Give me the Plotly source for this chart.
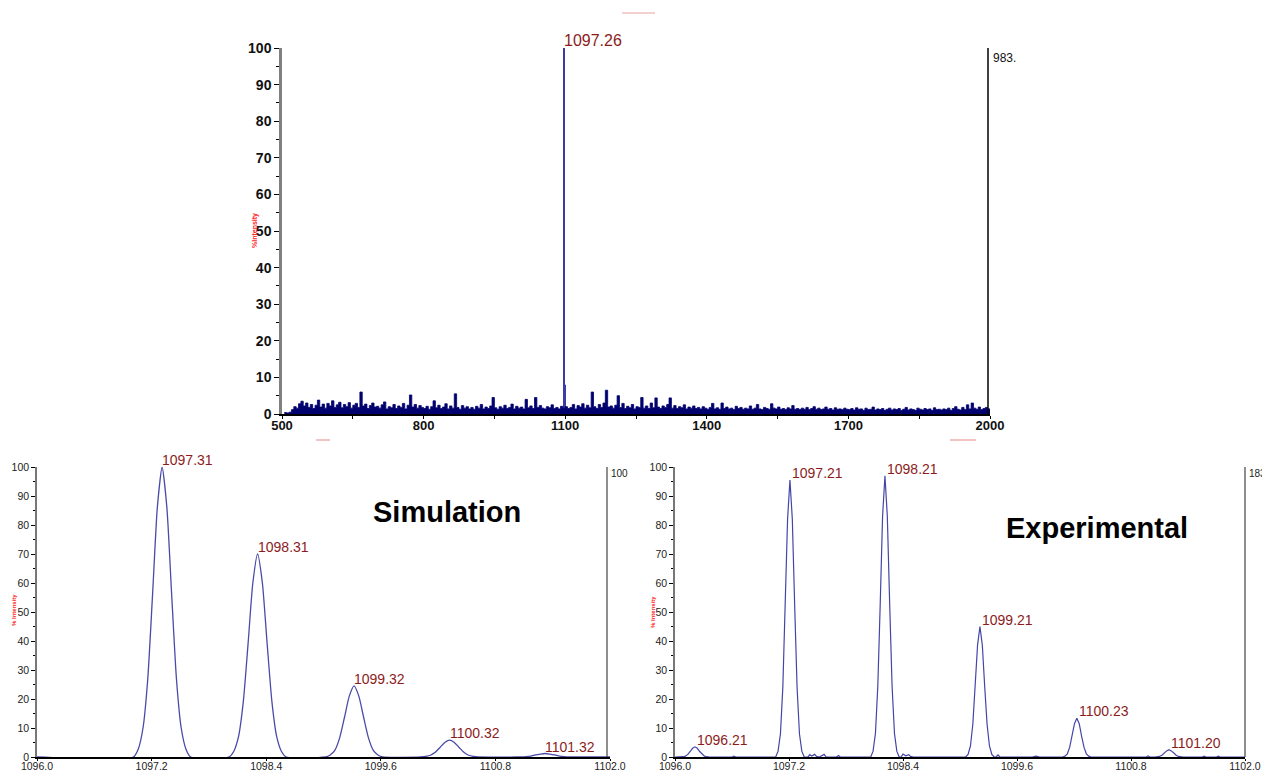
import plotly.graph_objects as go

FONT = "Arial, Liberation Sans, sans-serif"
LABEL_RED = "#8b1c1c"

# ---------------- Top panel: full-range spectrum ----------------
noise_start = 505
noise_step = 5
noise_vals = [
    0.3,0.4,0.3,0.5,1.2,2.0,1.6,2.8,3.5,2.2,3.0,1.8,2.6,1.5,2.4,3.8,1.9,2.7,1.6,2.9,
    2.2,3.6,1.8,2.5,3.2,1.7,2.6,2.0,3.1,1.6,2.4,2.9,1.8,6.0,2.2,2.7,1.5,2.3,3.0,1.9,
    2.1,1.6,2.5,3.3,1.4,2.0,1.7,2.6,1.5,2.2,1.8,2.9,1.4,2.4,5.2,1.9,2.6,1.6,2.3,1.8,
    1.5,2.1,1.3,2.0,3.6,1.7,2.4,1.5,1.9,2.8,1.4,2.2,1.6,5.5,1.8,1.3,2.3,1.6,2.0,1.4,
    1.8,1.3,2.1,1.6,2.6,1.4,1.9,1.5,2.2,4.5,1.7,1.3,2.0,1.6,2.4,1.5,1.8,2.7,1.4,2.1,
    1.6,1.9,1.4,4.0,1.7,2.2,1.5,4.5,1.8,2.3,1.6,1.4,2.0,1.7,2.5,1.5,1.8,1.4,2.1,1.6,
    2.0,1.5,1.8,2.6,1.4,2.3,1.9,2.8,1.6,2.4,1.7,6.0,2.0,1.5,2.6,1.8,3.0,6.5,1.9,2.2,
    1.6,2.4,5.0,1.8,2.9,1.5,2.1,1.7,2.6,1.4,2.0,1.8,4.5,1.6,2.2,1.5,3.0,1.7,4.4,1.9,
    1.5,2.2,1.8,2.6,4.4,1.6,2.3,1.5,2.0,1.7,2.5,1.4,1.9,1.6,2.2,1.5,1.8,1.4,2.0,1.6,
    1.3,1.8,2.9,1.4,1.7,1.3,3.0,1.5,1.9,1.4,1.6,1.2,2.1,1.5,1.8,1.3,1.6,1.4,2.2,1.3,
    1.6,2.6,1.4,1.2,1.8,1.5,1.3,2.8,1.6,1.4,1.9,1.3,1.5,1.2,1.7,1.4,2.3,1.3,1.5,1.2,
    1.6,1.3,1.8,1.2,1.5,2.0,1.3,1.6,1.2,1.4,1.9,1.3,1.5,1.1,1.7,1.3,1.4,1.2,1.6,1.3,
    1.2,1.5,1.1,1.7,1.3,1.4,1.0,1.6,1.2,1.3,1.9,1.1,1.4,1.2,1.5,1.0,1.3,1.6,1.1,1.4,
    1.2,1.5,1.0,1.3,1.8,1.1,1.4,1.2,1.0,1.6,1.3,1.1,1.5,1.2,1.4,1.0,1.7,1.2,1.3,1.1,
    1.4,1.2,1.6,1.0,1.5,2.0,1.3,1.1,1.8,1.2,2.5,1.4,3.0,1.6,1.3,1.9,1.2,1.5,1.8,1.4,
]
noise_mz = [noise_start + noise_step * i for i in range(len(noise_vals))]

main_mz = [1097.26, 1098.26, 1099.26]
main_int = [100, 53, 8]
top_label_mz = 1097.26
top_label_int = 100
top_label = "1097.26"

top_xticks = [500, 800, 1100, 1400, 1700, 2000]
top_xminor = [650, 950, 1250, 1550, 1850]

# ---------------- Bottom-left: simulated isotope pattern ----------------
s1_x = [1097.01,1097.06,1097.11,1097.16,1097.21,1097.26,1097.31,1097.36,1097.41,1097.46,1097.51,1097.56,1097.61]
s1_y = [0,2.7,10,27,56,86,100,86,56,27,10,2.7,0]
s2_x = [1098.01,1098.06,1098.11,1098.16,1098.21,1098.26,1098.31,1098.36,1098.41,1098.46,1098.51,1098.56,1098.61]
s2_y = [0,1.9,7,19,39,60,70,60,39,19,7,1.9,0]
s3_x = [1099.02,1099.07,1099.12,1099.17,1099.22,1099.27,1099.32,1099.37,1099.42,1099.47,1099.52,1099.57,1099.62]
s3_y = [0,0.7,2.4,6.7,13.7,21,24.5,21,13.7,6.7,2.4,0.7,0]
s4_x = [1100.02,1100.07,1100.12,1100.17,1100.22,1100.27,1100.32,1100.37,1100.42,1100.47,1100.52,1100.57,1100.62]
s4_y = [0,0.2,0.6,1.6,3.3,5.0,5.8,5.0,3.3,1.6,0.6,0.2,0]
s5_x = [1101.02,1101.07,1101.12,1101.17,1101.22,1101.27,1101.32,1101.37,1101.42,1101.47,1101.52,1101.57,1101.62]
s5_y = [0,0,0.1,0.3,0.7,1.0,1.2,1.0,0.7,0.3,0.1,0,0]

sim_labels = ["1097.31", "1098.31", "1099.32", "1100.32", "1101.32"]
sim_label_x = [1097.31, 1098.31, 1099.32, 1100.32, 1101.32]
sim_label_y = [100, 70, 24.5, 5.8, 1.2]

# ---------------- Bottom-right: experimental isotope pattern ----------------
e0_x = [1096.06,1096.085,1096.11,1096.135,1096.16,1096.185,1096.21,1096.235,1096.26,1096.285,1096.31,1096.335,1096.36]
e0_y = [0,0.1,0.3,0.9,1.9,3.0,3.5,3.0,1.9,0.9,0.3,0.1,0]
e1_x = [1097.06,1097.085,1097.11,1097.135,1097.16,1097.185,1097.21,1097.235,1097.26,1097.285,1097.31,1097.335,1097.36]
e1_y = [0,2,8,24,52,82,95.5,82,52,24,8,2,0]
e2_x = [1098.06,1098.085,1098.11,1098.135,1098.16,1098.185,1098.21,1098.235,1098.26,1098.285,1098.31,1098.335,1098.36]
e2_y = [0,2,8.2,24.5,52.5,83,97,83,52.5,24.5,8.2,2,0]
e3_x = [1099.06,1099.085,1099.11,1099.135,1099.16,1099.185,1099.21,1099.235,1099.26,1099.285,1099.31,1099.335,1099.36]
e3_y = [0,0.9,3.8,11.3,24.3,38.6,45,38.6,24.3,11.3,3.8,0.9,0]
e4_x = [1100.08,1100.105,1100.13,1100.155,1100.18,1100.205,1100.23,1100.255,1100.28,1100.305,1100.33,1100.355,1100.38]
e4_y = [0,0.3,1.1,3.4,7.2,11.5,13.4,11.5,7.2,3.4,1.1,0.3,0]
e5_x = [1101.05,1101.075,1101.10,1101.125,1101.15,1101.175,1101.20,1101.225,1101.25,1101.275,1101.30,1101.325,1101.35]
e5_y = [0,0.1,0.2,0.6,1.4,2.1,2.5,2.1,1.4,0.6,0.2,0.1,0]
en_x = [1096.60,1096.62,1096.64,1097.40,1097.42,1097.44,1097.47,1097.49,1097.52,1097.55,1097.57,1097.59,
        1097.70,1097.72,1097.74,1098.38,1098.40,1098.43,1098.46,1098.48,1098.51,1099.38,1099.40,1099.42,
        1099.76,1099.80,1099.84,1100.96,1100.98,1101.00,1101.55,1101.57,1101.59,1101.70,1101.72,1101.74]
en_y = [0,0.3,0,0,0.8,0.3,0.9,0.2,0,0.6,0.9,0,
        0,0.5,0,0,1.0,0.4,0.8,0.2,0,0,0.7,0,
        0,0.3,0,0,0.4,0,0,0.3,0,0,0.3,0]

exp_labels = ["1096.21", "1097.21", "1098.21", "1099.21", "1100.23", "1101.20"]
exp_label_x = [1096.21, 1097.21, 1098.21, 1099.21, 1100.23, 1101.20]
exp_label_y = [3.5, 95.5, 97, 45, 13.4, 2.5]

zoom_xticks = [1096.0, 1097.2, 1098.4, 1099.6, 1100.8, 1102.0]
zoom_range = [1096.0, 1102.0]

# ---------------- Build traces ----------------
sim_x = [zoom_range[0]] + s1_x + s2_x + s3_x + s4_x + s5_x + [zoom_range[1]]
sim_y = [0] + s1_y + s2_y + s3_y + s4_y + s5_y + [0]

pairs = list(zip(e0_x + e1_x + e2_x + e3_x + e4_x + e5_x + en_x,
                 e0_y + e1_y + e2_y + e3_y + e4_y + e5_y + en_y))
pairs += [(zoom_range[0], 0), (zoom_range[1], 0)]
pairs.sort(key=lambda p: p[0])
exp_x = [p[0] for p in pairs]
exp_y = [p[1] for p in pairs]

fig = go.Figure()
fig.add_trace(go.Scatter(x=noise_mz, y=noise_vals, mode="lines", line=dict(color="#00006e", width=0.8, shape="vh"),
                         fill="tozeroy", fillcolor="#00006e", xaxis="x", yaxis="y", showlegend=False))
fig.add_trace(go.Bar(x=main_mz, y=main_int, width=2.6, marker=dict(color="#3c3ca6", line=dict(width=0)),
                     xaxis="x", yaxis="y", showlegend=False))
fig.add_trace(go.Scatter(x=sim_x, y=sim_y, mode="lines", line=dict(color="#4a4aaa", width=1.3, shape="spline", smoothing=0.6),
                         xaxis="x2", yaxis="y2", showlegend=False))
fig.add_trace(go.Scatter(x=exp_x, y=exp_y, mode="lines", line=dict(color="#4545a8", width=1.2),
                         xaxis="x3", yaxis="y3", showlegend=False))

# ---------------- Layout ----------------
# The page body adds an 8 px offset, so the figure is drawn 8 px smaller and
# every position below (given in screen pixels) is shifted by that offset.
OFF = 8
W, H = 1270 - OFF, 772 - OFF
def px(x):
    return (x - OFF) / W
def py(y):
    return 1 - (y - OFF) / H

tick_font_bot = dict(family=FONT, size=10.5, color="#222")

common = dict(showgrid=False, zeroline=False, automargin=False)

fig.update_layout(
    width=W, height=H, margin=dict(l=0, r=0, t=0, b=0, autoexpand=False),
    paper_bgcolor="white", plot_bgcolor="white", barmode="overlay",
    showlegend=False,
    xaxis=dict(domain=[px(282), px(990)], range=[500, 2000], anchor="y",
               tickmode="array", tickvals=top_xticks, ticktext=[str(v) for v in top_xticks],
               ticks="outside", ticklen=3, tickcolor="#000", showline=True, linecolor="#000", linewidth=1.5,
               minor=dict(tickvals=top_xminor, ticks="outside", ticklen=3, tickcolor="#000"),
               ticklabelstandoff=-4,
               tickfont=dict(family=FONT, size=13, color="#111", weight="bold"), **common),
    yaxis=dict(domain=[py(414), py(48)], range=[0, 100], anchor="x",
               tickmode="linear", tick0=0, dtick=10,
               ticks="outside", ticklen=5, tickcolor="#000", showline=True, linecolor="#808080", linewidth=2.5,
               minor=dict(dtick=5, ticks="outside", ticklen=3, tickcolor="#000"),
               tickfont=dict(family=FONT, size=14, color="#111", weight="bold"), **common),
    xaxis2=dict(domain=[px(37), px(610)], range=zoom_range, anchor="y2",
                tickmode="array", tickvals=zoom_xticks, ticktext=[f"{v:.1f}" for v in zoom_xticks],
                ticks="outside", ticklen=2, tickcolor="#000", showline=True, linecolor="#000", linewidth=1.5,
                ticklabelstandoff=-3, tickfont=tick_font_bot, **common),
    yaxis2=dict(domain=[py(757), py(467)], range=[0, 100], anchor="x2",
                tickmode="linear", tick0=0, dtick=10,
                ticks="outside", ticklen=4, tickcolor="#000", showline=True, linecolor="#777", linewidth=1.5,
                minor=dict(dtick=5, ticks="outside", ticklen=2, tickcolor="#000"),
                tickfont=tick_font_bot, **common),
    xaxis3=dict(domain=[px(675), px(1245)], range=zoom_range, anchor="y3",
                tickmode="array", tickvals=zoom_xticks, ticktext=[f"{v:.1f}" for v in zoom_xticks],
                ticks="outside", ticklen=2, tickcolor="#000", showline=True, linecolor="#000", linewidth=1.5,
                ticklabelstandoff=-3, tickfont=tick_font_bot, **common),
    yaxis3=dict(domain=[py(757), py(467)], range=[0, 100], anchor="x3",
                tickmode="linear", tick0=0, dtick=10,
                ticks="outside", ticklen=4, tickcolor="#000", showline=True, linecolor="#777", linewidth=1.5,
                minor=dict(dtick=5, ticks="outside", ticklen=2, tickcolor="#000"),
                tickfont=tick_font_bot, **common),
)

shapes = [
    dict(type="line", xref="paper", yref="paper", x0=px(988), x1=px(988), y0=py(414), y1=py(48),
         line=dict(color="#000", width=1.5)),
    dict(type="line", xref="paper", yref="paper", x0=px(607), x1=px(607), y0=py(757), y1=py(467),
         line=dict(color="#444", width=1.2)),
    dict(type="line", xref="paper", yref="paper", x0=px(1245), x1=px(1245), y0=py(757), y1=py(467),
         line=dict(color="#444", width=1.2)),
    # faint red marks (tiny illegible captions in the original)
    dict(type="line", xref="paper", yref="paper", x0=px(622), x1=px(655), y0=py(13), y1=py(13),
         line=dict(color="#e8a0a0", width=1)),
    dict(type="line", xref="paper", yref="paper", x0=px(316), x1=px(330), y0=py(440), y1=py(440),
         line=dict(color="#f0b0b0", width=1.5)),
    dict(type="line", xref="paper", yref="paper", x0=px(950), x1=px(976), y0=py(440), y1=py(440),
         line=dict(color="#f0b0b0", width=1.5)),
]
fig.update_layout(shapes=shapes)

ann = []
ann.append(dict(x=top_label_mz, y=top_label_int, xref="x", yref="y", text=top_label, showarrow=False,
                xanchor="left", yanchor="bottom", xshift=-2, yshift=-3,
                font=dict(family=FONT, size=16, color=LABEL_RED)))
for t, x, y in zip(sim_labels, sim_label_x, sim_label_y):
    ann.append(dict(x=x, y=y, xref="x2", yref="y2", text=t, showarrow=False, xanchor="left", yanchor="bottom",
                    xshift=-2, yshift=-3, font=dict(family=FONT, size=14, color=LABEL_RED)))
for t, x, y in zip(exp_labels, exp_label_x, exp_label_y):
    ann.append(dict(x=x, y=y, xref="x3", yref="y3", text=t, showarrow=False, xanchor="left", yanchor="bottom",
                    xshift=0, yshift=-3, font=dict(family=FONT, size=14, color=LABEL_RED)))

ann += [
    dict(x=px(447), y=py(512), xref="paper", yref="paper", text="<b>Simulation</b>", showarrow=False,
         xanchor="center", yanchor="middle", font=dict(family=FONT, size=29, color="#000")),
    dict(x=px(1097), y=py(528), xref="paper", yref="paper", text="<b>Experimental</b>", showarrow=False,
         xanchor="center", yanchor="middle", font=dict(family=FONT, size=29, color="#000")),
    dict(x=px(991), y=py(49), xref="paper", yref="paper", text="983.", showarrow=False,
         xanchor="left", yanchor="top", font=dict(family=FONT, size=12, color="#111")),
    dict(x=px(609), y=py(466), xref="paper", yref="paper", text="100", showarrow=False,
         xanchor="left", yanchor="top", font=dict(family=FONT, size=10, color="#222")),
    dict(x=px(1247), y=py(466), xref="paper", yref="paper", text="1833", showarrow=False,
         xanchor="left", yanchor="top", font=dict(family=FONT, size=10, color="#222")),
    dict(x=px(255), y=py(230), xref="paper", yref="paper", text="<b>%Intensity</b>", showarrow=False,
         textangle=-90, xanchor="center", yanchor="middle", font=dict(family=FONT, size=7, color="#ff2020")),
    dict(x=px(14), y=py(610), xref="paper", yref="paper", text="<b>% Intensity</b>", showarrow=False,
         textangle=-90, xanchor="center", yanchor="middle", font=dict(family=FONT, size=6, color="#ff2020")),
    dict(x=px(653), y=py(612), xref="paper", yref="paper", text="<b>% Intensity</b>", showarrow=False,
         textangle=-90, xanchor="center", yanchor="middle", font=dict(family=FONT, size=6, color="#ff2020")),
]
fig.update_layout(annotations=ann)

fig.write_html("out.html")
